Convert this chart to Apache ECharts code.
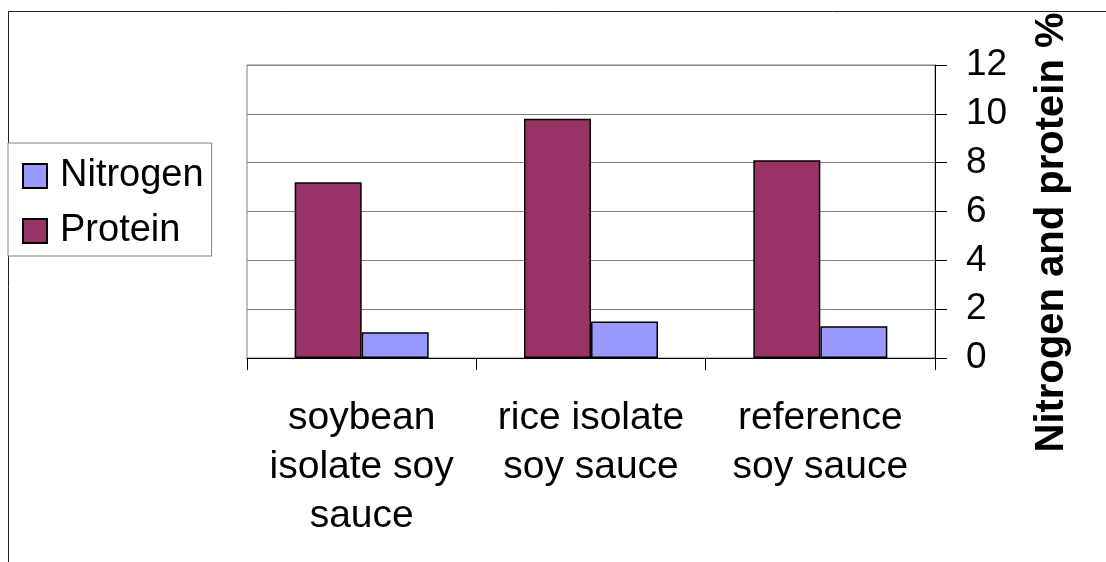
<!DOCTYPE html>
<html>
<head>
<meta charset="utf-8">
<script src="https://cdn.jsdelivr.net/npm/echarts@6/dist/echarts.min.js"></script>
<style>
  html, body { margin: 0; padding: 0; background: #fff; }
  #chart { width: 1106px; height: 562px; }
</style>
</head>
<body>
<div id="chart"></div>
<script>
const categories = ['soybean\nisolate soy\nsauce', 'rice isolate\nsoy sauce', 'reference\nsoy sauce'];
const proteinValues = [7.2, 9.8, 8.1];
const nitrogenValues = [1.05, 1.5, 1.3];
const yTicks = { min: 0, max: 12, interval: 2 };
const axisName = 'Nitrogen and protein %';

const chart = echarts.init(document.getElementById('chart'));
const font = 'Arial, "Liberation Sans", sans-serif';
chart.setOption({
  animation: false,
  backgroundColor: '#fff',
  textStyle: { fontFamily: font, color: '#000' },
  graphic: [{
    type: 'rect', silent: true, z: -1,
    shape: { x: 8.5, y: 11.5, width: 2000, height: 2000 },
    style: { fill: 'none', stroke: '#222', lineWidth: 1 }
  }],
  legend: {
    orient: 'vertical', left: 8, top: 143,
    data: ['Nitrogen', 'Protein'],
    icon: 'rect', itemWidth: 24, itemHeight: 24, itemGap: 17, itemTextGap: 14,
    padding: [14, 8, 6, 14],
    borderColor: '#808080', borderWidth: 1, backgroundColor: '#fff',
    textStyle: { fontSize: 38, color: '#000', fontFamily: font, padding: [0, 0, 0, 8] }
  },
  grid: {
    left: 247, right: 171, top: 65, bottom: 204,
    show: true, borderColor: '#808080', borderWidth: 1
  },
  xAxis: {
    type: 'category', data: categories,
    axisLine: { lineStyle: { color: '#000', width: 1 } },
    axisTick: { show: true, length: 12, inside: false, lineStyle: { color: '#000' } },
    axisLabel: { fontSize: 39, lineHeight: 49, margin: 36, color: '#000', fontFamily: font, interval: 0 },
    splitLine: { show: false }
  },
  yAxis: {
    type: 'value', position: 'right',
    min: yTicks.min, max: yTicks.max, interval: yTicks.interval,
    axisLine: { show: true, lineStyle: { color: '#000', width: 1 } },
    axisTick: { show: true, length: 12, lineStyle: { color: '#000' } },
    axisLabel: { fontSize: 37, margin: 31, color: '#000', fontFamily: font },
    splitLine: { lineStyle: { color: '#808080', width: 1 } },
    name: axisName, nameLocation: 'middle', nameRotate: 90, nameGap: 97,
    nameTextStyle: { fontSize: 40, fontWeight: 'bold', color: '#000', fontFamily: font, padding: [0, 42, 0, 0] }
  },
  series: [
    {
      name: 'Protein', type: 'bar', data: proteinValues,
      barWidth: 67, barGap: '0%',
      itemStyle: { color: '#993366', borderColor: '#000', borderWidth: 1.5 }
    },
    {
      name: 'Nitrogen', type: 'bar', data: nitrogenValues,
      barWidth: 67, barGap: '0%',
      itemStyle: { color: '#9999FF', borderColor: '#000', borderWidth: 1.5 }
    }
  ]
});
</script>
</body>
</html>
